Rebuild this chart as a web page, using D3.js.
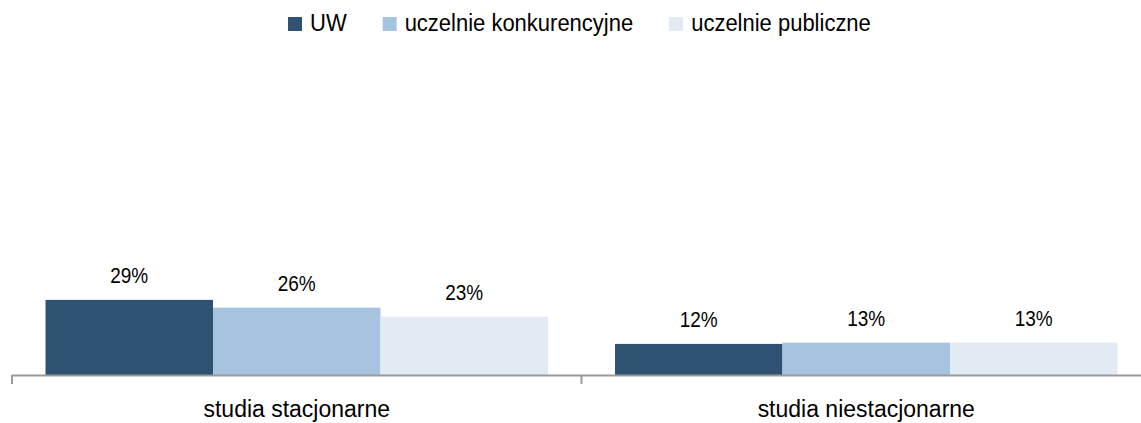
<!DOCTYPE html>
<html>
<head>
<meta charset="utf-8">
<script src="https://cdn.jsdelivr.net/npm/d3@7"></script>
<style>
  html, body { margin: 0; padding: 0; background: #ffffff; }
  svg { display: block; }
  text { font-family: "Liberation Sans", Arial, sans-serif; fill: #000; }
</style>
</head>
<body>
<svg id="chart" width="1141" height="423"></svg>
<script>
const categories = ["studia stacjonarne", "studia niestacjonarne"];
const seriesNames = ["UW", "uczelnie konkurencyjne", "uczelnie publiczne"];
const seriesUW = [29, 12];
const seriesKonk = [26, 12.5];
const seriesPubl = [22.5, 12.5];
const valueLabels = [["29%", "26%", "23%"], ["12%", "13%", "13%"]];
const colors = ["#2F5272", "#A6C3DF", "#E2EAF4"];

const seriesValues = [seriesUW, seriesKonk, seriesPubl];

const svg = d3.select("#chart");
const baseY = 375;

const x = d3.scaleBand().domain(categories).range([12, 1151]).padding(0);
const xs = d3.scaleBand().domain(seriesNames).range([0, x.bandwidth()])
  .paddingInner(0).paddingOuter(0.2);
const y = d3.scaleLinear().domain([0, 100]).range([baseY, 116]);

// bars
categories.forEach((cat, ci) => {
  const g = svg.append("g").attr("transform", `translate(${x(cat)},0)`);
  seriesNames.forEach((s, si) => {
    const v = seriesValues[si][ci];
    g.append("rect")
      .attr("x", xs(s))
      .attr("width", xs.bandwidth())
      .attr("y", y(v))
      .attr("height", baseY - y(v))
      .attr("fill", colors[si]);
    g.append("text")
      .attr("transform", `translate(${xs(s) + xs.bandwidth() / 2},${y(v) - 17}) scale(1,1.2)`)
      .attr("text-anchor", "middle")
      .style("font-size", "19px")
      .text(valueLabels[ci][si]);
  });
});

// axis
const axisG = svg.append("g").attr("transform", `translate(0,${baseY})`);
axisG.append("line")
  .attr("x1", x.range()[0]).attr("x2", x.range()[1])
  .attr("y1", 0.5).attr("y2", 0.5)
  .attr("stroke", "#9A9A9A").attr("stroke-width", 2);
const tickXs = categories.map(c => x(c)).concat([x.range()[1]]);
axisG.selectAll("line.tick").data(tickXs).enter().append("line")
  .attr("class", "tick")
  .attr("x1", d => d).attr("x2", d => d)
  .attr("y1", 0).attr("y2", 9)
  .attr("stroke", "#9A9A9A").attr("stroke-width", 2);
axisG.selectAll("text.cat").data(categories).enter().append("text")
  .attr("class", "cat")
  .attr("transform", d => `translate(${x(d) + x.bandwidth() / 2},42) scale(1,1.08)`)
  .attr("text-anchor", "middle")
  .style("font-size", "23px")
  .text(d => d);

// legend
const legend = svg.append("g");
let lx = 288;
seriesNames.forEach((s, i) => {
  legend.append("rect")
    .attr("x", lx).attr("y", 17)
    .attr("width", 14).attr("height", 14)
    .attr("fill", colors[i]);
  const t = legend.append("text")
    .attr("transform", `translate(${lx + 22},31) scale(1,1.1)`)
    .style("font-size", "22px")
    .text(s);
  lx = lx + 22 + t.node().getComputedTextLength() + 36;
});
</script>
</body>
</html>
